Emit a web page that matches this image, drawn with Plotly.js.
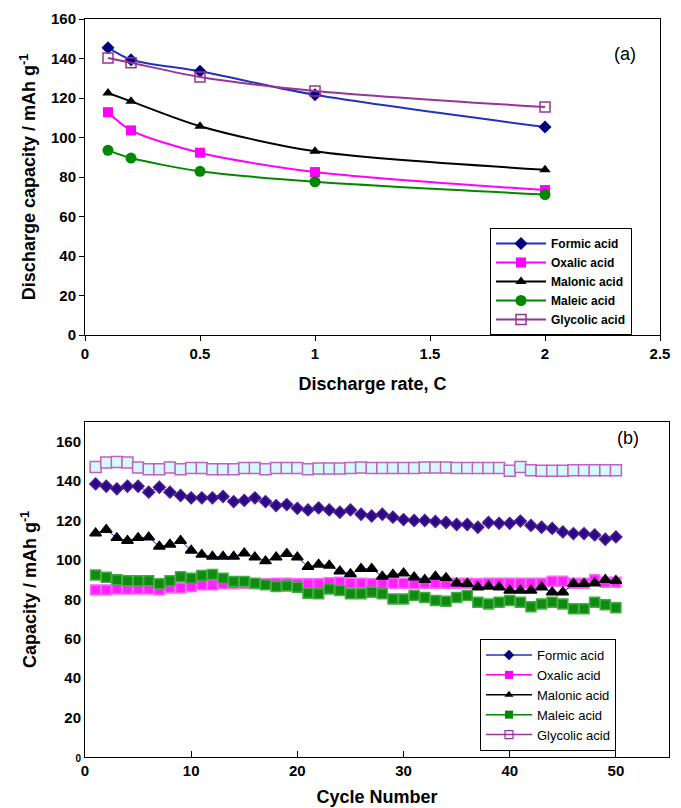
<!DOCTYPE html>
<html><head><meta charset="utf-8">
<script src="https://cdn.plot.ly/plotly-3.0.1.min.js"></script>
<style>body{margin:0;background:#fff}#c{width:681px;height:808px}</style>
</head><body><div id="c"></div>
<script>
// ---- (a) rate capability ----
const rates = [0.1, 0.2, 0.5, 1, 2];
const rateFormic   = [145.5, 139.4, 133.5, 121.6, 105.3];
const rateOxalic   = [112.8, 103.6, 92.3, 82.5, 73.4];
const rateMalonic  = [122.5, 118.3, 105.7, 93.0, 83.7];
const rateMaleic   = [93.5, 89.6, 82.9, 77.6, 71.1];
const rateGlycolic = [140.3, 137.9, 130.6, 123.6, 115.4];

// ---- (b) cycling ----
const cycles = Array.from({length: 50}, (_, i) => i + 1);
const cycFormic = [138.6,137.4,136.1,137.4,137.4,134.4,136.9,134.4,132.7,131.5,
  131.5,131.5,132.2,129.6,130.2,131.5,129.6,127.6,128.1,126.2,
  125.4,126.4,125.4,124.2,125.4,123.2,122.3,123.2,121.7,120.5,
  120.0,120.0,119.5,119.0,118.0,118.0,116.6,119.0,118.6,118.6,
  119.7,117.5,116.6,116.0,114.2,113.4,113.4,112.7,110.5,111.7];
const cycOxalic = [84.8,84.8,85.3,85.3,85.3,85.3,84.8,85.8,85.8,86.5,
  87.4,87.4,87.9,87.9,88.2,87.9,87.9,88.2,88.2,87.9,
  87.9,87.9,88.4,88.7,88.2,88.2,87.9,87.9,88.2,88.2,
  87.9,88.2,88.2,88.2,88.2,88.2,87.9,88.2,88.2,88.2,
  88.2,88.2,88.2,89.2,89.2,88.2,88.2,89.9,88.7,88.7];
const cycMalonic = [113.6,115.3,111.2,109.8,111.2,111.5,106.8,107.8,109.8,104.8,
  102.7,101.7,101.7,101.7,103.4,101.4,99.4,101.4,103.1,101.4,
  96.6,97.7,97.2,94.3,92.9,95.5,95.5,91.6,92.6,93.3,
  91.2,89.9,91.6,90.9,88.2,87.9,86.2,86.5,86.2,84.5,
  84.5,84.5,86.2,83.6,83.6,87.9,87.9,88.2,89.9,89.5];
const cycMaleic = [92.4,91.2,89.9,89.5,89.5,89.5,87.9,89.5,91.5,90.7,
  92.1,92.6,90.7,89.0,89.0,88.2,87.4,86.5,86.8,86.2,
  83.1,82.8,85.3,84.5,82.8,82.8,83.6,82.8,80.2,80.2,
  81.9,81.0,79.4,79.1,81.0,81.9,78.5,77.7,78.5,79.4,
  78.5,76.3,77.7,78.5,77.7,75.2,75.2,78.5,77.2,75.7];
const cycGlycolic = [147.2,149.4,149.7,149.4,146.9,146.0,146.0,146.9,146.0,146.6,
  146.6,146.0,146.0,146.0,146.6,146.6,146.0,146.6,146.6,146.6,
  146.0,146.4,146.4,146.4,146.6,146.9,146.6,146.6,146.6,146.6,
  146.6,146.9,146.9,146.9,146.6,146.6,146.6,146.6,146.6,145.2,
  147.2,145.5,145.2,145.2,145.2,145.5,145.5,145.5,145.5,145.5];

const names = ['Formic acid', 'Oxalic acid', 'Malonic acid', 'Maleic acid', 'Glycolic acid'];
const lineCol = ['#2233bb', '#ff00ff', '#000000', '#008800', '#993399'];
const mkCol   = ['#000080', '#ff00ff', '#000000', '#008800', '#993399'];
const mkSym   = ['diamond', 'square', 'triangle-up', 'circle', 'square-open'];
const mkSymKeyB = ['diamond', 'square', 'triangle-up', 'square', 'square-open'];
const mkSize  = [10, 10, 10, 11, 10];
const mkSymB  = ['diamond', 'square', 'triangle-up', 'square', 'square'];
const mkSizeB = [9, 10, 10, 10, 11];
const mkColB  = ['#2a0a80', '#ff22ff', '#000000', '#108a10', '#d8f8ff'];
const mkLineB = ['#4b1a9a', '#ff66ff', '#000000', '#40b040', '#c060c0'];
const lineColB = ['#6a1a9a', '#3333ff', '#2222ee', '#20a0a0', '#c060c0'];

const rateY = [rateFormic, rateOxalic, rateMalonic, rateMaleic, rateGlycolic];
const cycY = [cycFormic, cycOxalic, cycMalonic, cycMaleic, cycGlycolic];

const traces = [];
rateY.forEach((y, i) => {
  traces.push({
    x: rates, y: y, name: names[i], type: 'scatter', mode: 'lines+markers',
    xaxis: 'x', yaxis: 'y', legend: 'legend',
    line: {color: lineCol[i], width: 2, shape: 'spline', smoothing: 0.8},
    marker: {symbol: mkSym[i], size: mkSize[i], color: mkCol[i],
      line: {color: mkCol[i], width: i === 4 ? 1.5 : 0}}
  });
});
cycY.forEach((y, i) => {
  traces.push({
    x: cycles, y: y, name: names[i], type: 'scatter', mode: 'lines+markers',
    xaxis: 'x2', yaxis: 'y2', showlegend: false,
    line: {color: lineColB[i], width: 1},
    marker: {symbol: mkSymB[i], size: mkSizeB[i], color: mkColB[i],
      line: {color: mkLineB[i], width: 1.5}}
  });
});
// legend keys for panel (b), styled like the published key (no data drawn)
names.forEach((n, i) => {
  traces.push({
    x: [null], y: [null], name: n, type: 'scatter', mode: 'lines+markers',
    xaxis: 'x2', yaxis: 'y2', legend: 'legend2', hoverinfo: 'skip',
    line: {color: lineCol[i], width: 1.5},
    marker: {symbol: mkSymKeyB[i], size: 8, color: mkCol[i],
      line: {color: mkCol[i], width: i === 4 ? 1.2 : 0}}
  });
});

const font = 'Liberation Sans, Arial, sans-serif';
const tickF = {family: font, size: 15, color: '#000', weight: 'bold'};
const titleF = {family: font, size: 18, color: '#000', weight: 'bold'};
const layout = {
  width: 681, height: 808, margin: {l: 0, r: 0, t: 0, b: 0},
  paper_bgcolor: '#fff', plot_bgcolor: '#fff', showlegend: true,
  font: {family: font, color: '#000'},
  xaxis: {domain: [85/681, 660/681], anchor: 'y', range: [0, 2.5], dtick: 0.5,
    showline: true, linecolor: '#000', linewidth: 1, mirror: true,
    ticks: 'outside', ticklen: 5, tickcolor: '#000', showgrid: false, zeroline: false,
    tickfont: tickF, title: {text: 'Discharge rate, C', font: titleF, standoff: 16}},
  yaxis: {domain: [1 - 335/808, 1 - 19/808], anchor: 'x', range: [0, 160], dtick: 20,
    showline: true, linecolor: '#000', linewidth: 1, mirror: true,
    ticks: 'outside', ticklen: 5, tickcolor: '#000', showgrid: false, zeroline: false,
    tickfont: tickF, title: {text: 'Discharge capacity / mAh g<sup>-1</sup>', font: titleF, standoff: 10}},
  xaxis2: {domain: [85/681, 669/681], anchor: 'y2', range: [0, 55],
    tickvals: [0, 10, 20, 30, 40, 50],
    showline: true, linecolor: '#000', linewidth: 1, mirror: true,
    ticks: 'inside', ticklen: 6, tickcolor: '#000', showgrid: false, zeroline: false,
    tickfont: tickF, title: {text: 'Cycle Number', font: titleF, standoff: 12}},
  yaxis2: {domain: [1 - 757/808, 1 - 422/808], anchor: 'x2', range: [0, 170],
    tickvals: [0, 20, 40, 60, 80, 100, 120, 140, 160],
    ticktext: ['<span style="font-size:10px">0</span>', '20', '40', '60', '80', '100', '120', '140', '160'],
    showline: true, linecolor: '#000', linewidth: 1, mirror: true,
    ticks: '', showgrid: false, zeroline: false,
    tickfont: tickF, title: {text: 'Capacity / mAh g<sup>-1</sup>', font: titleF, standoff: 14}},
  legend: {x: 490/681, y: 1 - 228/808, xanchor: 'left', yanchor: 'top',
    itemwidth: 50,
    bgcolor: '#fff', bordercolor: '#000', borderwidth: 1,
    font: {family: font, size: 12, color: '#000', weight: 'bold'}, tracegroupgap: 0},
  legend2: {x: 480/681, y: 1 - 639/808, xanchor: 'left', yanchor: 'top',
    itemwidth: 46,
    bgcolor: '#fff', bordercolor: '#000', borderwidth: 1,
    font: {family: font, size: 13, color: '#000'}, tracegroupgap: 0},
  annotations: [
    {text: '(a)', x: 638/681, y: 1 - 42/808, xref: 'paper', yref: 'paper', showarrow: false,
      font: {family: font, size: 18, color: '#000'}},
    {text: '(b)', x: 641/681, y: 1 - 438/808, xref: 'paper', yref: 'paper', showarrow: false,
      font: {family: font, size: 18, color: '#000'}}
  ]
};
Plotly.newPlot('c', traces, layout, {displayModeBar: false, staticPlot: true});
</script>
</body></html>
